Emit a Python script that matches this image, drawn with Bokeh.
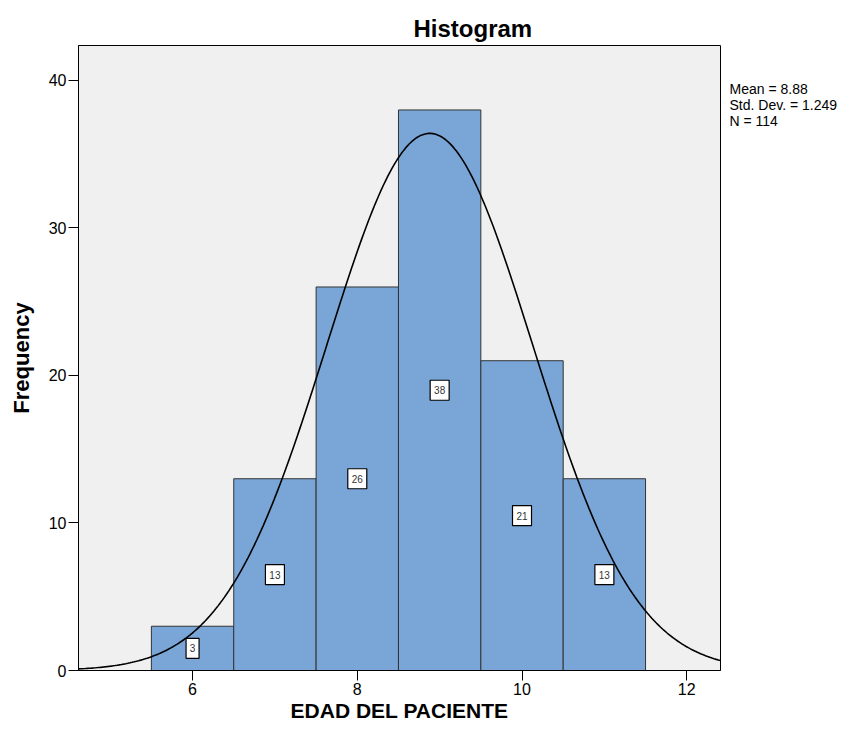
import numpy as np
from bokeh.plotting import figure
from bokeh.layouts import row
from bokeh.models import ColumnDataSource, FixedTicker, Range1d
from bokeh.core.properties import value
from bokeh.embed import file_html
from bokeh.resources import INLINE

# ---- data ----
bin_left = [5.5, 6.5, 7.5, 8.5, 9.5, 10.5]
bin_right = [6.5, 7.5, 8.5, 9.5, 10.5, 11.5]
counts = [3, 13, 26, 38, 21, 13]
mean_val = 8.88
sd_val = 1.249
n_val = 114
x_ticks = [6, 8, 10, 12]
y_ticks = [0, 10, 20, 30, 40]
stats_lines = [f"Mean = {mean_val:.2f}", f"Std. Dev. = {sd_val:.3f}", f"N = {n_val}"]

FONT = "Liberation Sans"
x0, x1 = 4.615, 12.41
y0, y1 = 0, 42.37
W_MAIN, W_SIDE, H = 722, 123, 724
TOP, BOTTOM = 45, 53

p = figure(width=W_MAIN, height=H, output_backend="svg", toolbar_location=None,
           x_range=Range1d(x0, x1), y_range=Range1d(y0, y1),
           min_border_left=78, min_border_right=2, min_border_top=TOP, min_border_bottom=BOTTOM)
p.background_fill_color = "#f0f0f0"
p.border_fill_color = "white"
p.outline_line_color = "black"
p.outline_line_width = 1
p.xgrid.visible = False
p.ygrid.visible = False

p.title.text = "Histogram"
p.title.align = "left"
p.title.offset = 335
p.title.standoff = 8
p.title.text_font = FONT
p.title.text_font_size = "24px"
p.title.text_font_style = "bold"
p.title.text_color = "black"

src = ColumnDataSource(dict(
    left=bin_left, right=bin_right, top=counts,
    mid=[(a + b) / 2 for a, b in zip(bin_left, bin_right)],
    half=[c / 2 for c in counts],
    lab=[str(c) for c in counts],
    bw=[7 + 6 * len(str(c)) for c in counts],
))
p.quad(left="left", right="right", bottom=0, top="top", source=src,
       fill_color="#79a6d6", line_color="#333333", line_width=1)

binw = bin_right[0] - bin_left[0]
xs = np.linspace(x0, x1, 300)
ys = n_val * binw * np.exp(-0.5 * ((xs - mean_val) / sd_val) ** 2) / (sd_val * np.sqrt(2 * np.pi))
p.line(xs, ys, line_color="black", line_width=1.6)

p.rect(x="mid", y="half", width="bw", height=20, width_units="screen", height_units="screen",
       source=src, fill_color="white", line_color="black", line_width=1.2)
p.text(x="mid", y="half", text="lab", source=src, text_align="center", text_baseline="middle",
       text_font=value(FONT), text_font_size="10px", text_color="#333333")

for ax in (p.xaxis[0], p.yaxis[0]):
    ax.axis_line_color = "black"
    ax.major_tick_line_color = "black"
    ax.minor_tick_line_color = None
    ax.major_tick_in = 0
    ax.major_tick_out = 10
    ax.major_label_text_font = FONT
    ax.major_label_text_font_size = "16px"
    ax.major_label_text_color = "black"
    ax.axis_label_text_font = FONT
    ax.axis_label_text_font_size = "21px"
    ax.axis_label_text_font_style = "bold"
    ax.axis_label_text_color = "black"

p.xaxis.ticker = FixedTicker(ticks=x_ticks)
p.yaxis.ticker = FixedTicker(ticks=y_ticks)
p.xaxis.axis_label = "EDAD DEL PACIENTE"
p.yaxis.axis_label = "Frequency"
p.yaxis.axis_label_text_font_size = "22px"
p.xaxis.major_label_standoff = 2
p.xaxis.axis_label_standoff = 1
p.yaxis.major_label_standoff = 2
p.yaxis.axis_label_standoff = 12

# side panel with the statistics text; its frame is aligned with the main frame,
# so its y range is expressed in page pixels of that frame
s = figure(width=W_SIDE, height=H, output_backend="svg", toolbar_location=None,
           x_range=Range1d(0, W_SIDE), y_range=Range1d(670, TOP),
           min_border_left=0, min_border_right=0, min_border_top=TOP, min_border_bottom=BOTTOM)
s.axis.visible = False
s.grid.visible = False
s.outline_line_color = None
s.background_fill_color = "white"
s.border_fill_color = "white"
s.text(x=[7, 7, 7], y=[88, 104, 120], text=stats_lines, text_align="left",
       text_baseline="middle", text_font=value(FONT), text_font_size="14px",
       text_color="black")

layout = row(p, s, spacing=0)
open("out.html", "w").write(file_html(layout, INLINE))
